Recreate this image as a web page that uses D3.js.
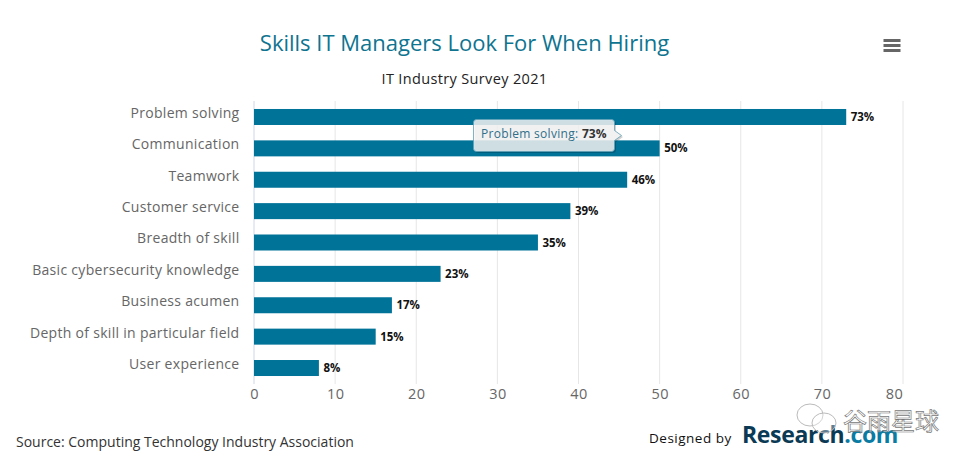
<!DOCTYPE html>
<html>
<head>
<meta charset="utf-8">
<script src="https://cdnjs.cloudflare.com/ajax/libs/d3/7.8.5/d3.min.js"></script>
<style>
html, body { margin: 0; padding: 0; background: #fff; }
svg { display: block; font-family: "Open Sans", sans-serif; }
</style>
</head>
<body>
<svg id="chart" width="970" height="463"></svg>
<script>
var skills = ["Problem solving", "Communication", "Teamwork", "Customer service", "Breadth of skill",
              "Basic cybersecurity knowledge", "Business acumen", "Depth of skill in particular field", "User experience"];
var shares = [73, 50, 46, 39, 35, 23, 17, 15, 8];
var xTicks = [0, 10, 20, 30, 40, 50, 60, 70, 80];
var chartTitle = "Skills IT Managers Look For When Hiring";
var chartSubtitle = "IT Industry Survey 2021";
var sourceText = "Source: Computing Technology Industry Association";

var svg = d3.select("#chart");
var blue = "#007398";

var x = d3.scaleLinear().domain([0, 80]).range([254, 903]);
var y = d3.scaleBand().domain(skills).range([101.3, 383.7]).paddingInner(0.49).paddingOuter(0.245);

svg.append("text").attr("x", 464.5).attr("y", 51)
    .attr("text-anchor", "middle").attr("font-size", 22).attr("fill", "#0e7490")
    .text(chartTitle);
svg.append("text").attr("x", 464.5).attr("y", 84)
    .attr("text-anchor", "middle").attr("font-size", 14.5).attr("letter-spacing", 0.35).attr("fill", "#222")
    .text(chartSubtitle);

// hamburger menu
svg.selectAll(".menu").data([0, 1, 2]).enter().append("rect")
    .attr("class", "menu")
    .attr("x", 883.5).attr("y", function(d) { return 39 + d * 5; })
    .attr("width", 17).attr("height", 3)
    .attr("fill", "#666");

// grid
svg.append("g").selectAll("line").data(xTicks.slice(1)).enter().append("line")
    .attr("x1", function(d) { return x(d); })
    .attr("x2", function(d) { return x(d); })
    .attr("y1", 101).attr("y2", 384)
    .attr("stroke", "#e6e6e6");

// x axis
var xAxis = d3.axisBottom(x).tickValues(xTicks).tickSize(0).tickPadding(6);
var gx = svg.append("g").attr("transform", "translate(0,383)").call(xAxis);
gx.select(".domain").remove();
gx.selectAll("text").attr("font-family", "Open Sans, sans-serif").attr("font-size", 14.5)
    .attr("letter-spacing", 0.4).attr("fill", "#666")
    .attr("dx", function(d) { return d === 80 ? -9 : 0; }); // last label is pulled in, as in the original

// y axis
var yAxis = d3.axisLeft(y).tickSize(0).tickPadding(0);
var gy = svg.append("g").attr("transform", "translate(239.5,-3.5)").call(yAxis);
gy.select(".domain").remove();
gy.selectAll("text").attr("font-family", "Open Sans, sans-serif").attr("font-size", 14)
    .attr("letter-spacing", 0.3).attr("fill", "#666");

svg.append("line").attr("x1", 254).attr("x2", 254).attr("y1", 101).attr("y2", 384)
    .attr("stroke", "#ccd6eb");

// bars
svg.append("g").selectAll("rect").data(shares).enter().append("rect")
    .attr("x", x(0))
    .attr("y", function(d, i) { return y(skills[i]); })
    .attr("width", function(d) { return x(d) - x(0); })
    .attr("height", y.bandwidth())
    .attr("fill", blue);

svg.append("g").selectAll("text").data(shares).enter().append("text")
    .attr("x", function(d) { return x(d) + 4.5; })
    .attr("y", function(d, i) { return y(skills[i]) + y.bandwidth() / 2 + 4; })
    .attr("font-size", 11.5).attr("font-weight", 700).attr("fill", "#111")
    .text(function(d) { return d + "%"; });

// tooltip, see-through like the original so the bars show behind it
var tipPath = "M476.5 119.5h135a3 3 0 0 1 3 3v8l7 5l-7 5v8a3 3 0 0 1 -3 3h-135a3 3 0 0 1 -3 -3v-26a3 3 0 0 1 3 -3z";
var tip = svg.append("g");
tip.append("path").attr("d", tipPath)
    .attr("fill", "#000").attr("opacity", 0.18).attr("transform", "translate(1.5,1.5)");
tip.append("path").attr("d", tipPath)
    .attr("fill", "#f7f7f7").attr("fill-opacity", 0.84)
    .attr("stroke", "#5f9fb6").attr("stroke-width", 0.8);
var tipText = tip.append("text").attr("x", 481).attr("y", 138)
    .attr("font-size", 12).attr("letter-spacing", 0.3).attr("fill", "#2f6f8a");
tipText.append("tspan").text(skills[0] + ": ");
tipText.append("tspan").attr("font-weight", 700).attr("letter-spacing", 0).attr("fill", "#333").text(shares[0] + "%");

// footer
svg.append("text").attr("x", 16).attr("y", 447)
    .attr("font-size", 14).attr("fill", "#333").text(sourceText);
svg.append("text").attr("x", 649).attr("y", 442.5)
    .attr("font-size", 13.5).attr("letter-spacing", 0.5).attr("fill", "#111").text("Designed by");
var logo = svg.append("text").attr("x", 742).attr("y", 443)
    .attr("font-size", 23).attr("font-weight", 700).attr("letter-spacing", -0.35);
logo.append("tspan").attr("fill", "#0b3a55").text("Research");
logo.append("tspan").attr("fill", "#0a7ba3").text(".com");

// watermark
var mark = svg.append("g").attr("fill", "#fff").attr("fill-opacity", 0.35).attr("stroke", "#bbb").attr("stroke-width", 1);
mark.append("ellipse").attr("cx", 810).attr("cy", 415).attr("rx", 13).attr("ry", 11);
mark.append("ellipse").attr("cx", 824).attr("cy", 423).attr("rx", 12).attr("ry", 10);
svg.append("text").attr("x", 843).attr("y", 430)
    .attr("font-family", "Noto Sans CJK SC").attr("font-size", 24).attr("fill", "#fff").attr("fill-opacity", 0.6)
    .attr("stroke", "#777").attr("stroke-width", 0.7).text("谷雨星球");
</script>
</body>
</html>
